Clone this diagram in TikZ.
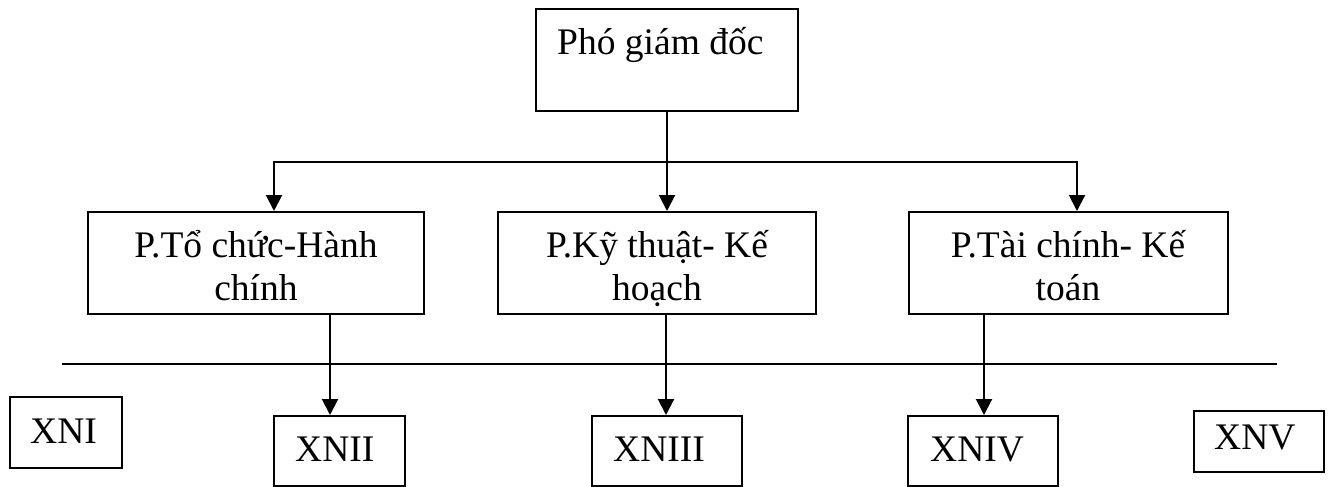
\documentclass[tikz,border=0pt]{standalone}
\usepackage{fontspec}
\setmainfont{Liberation Serif}
\usetikzlibrary{arrows.meta}
\begin{document}
\begin{tikzpicture}[x=1pt,y=-1pt,
  box/.style={draw,line width=2pt,inner sep=0pt,minimum width=#1},
  lbl/.style={inner sep=0pt,font=\fontsize{37.5}{44}\selectfont},
  conn/.style={line width=2pt},
  arr/.style={conn,-{Triangle[width=16pt,length=16pt]}}]
\useasboundingbox (0,0) rectangle (1328,487);
% top box
\node[box=262pt,minimum height=102pt] (top) at (667,60) {};
\node[lbl,anchor=base west] (ttop) at (557,55) {Phó giám đốc};
% level-2 boxes
\node[box=336pt,minimum height=102pt] (b1) at (256,263) {};
\node[box=318pt,minimum height=102pt] (b2) at (657,263) {};
\node[box=319pt,minimum height=102pt] (b3) at (1068.5,263) {};
\node[lbl,anchor=base] (t1a) at (256,257) {P.Tổ chức-Hành};
\node[lbl,anchor=base] (t1b) at (256,300) {chính};
\node[lbl,anchor=base] (t2a) at (657,257) {P.Kỹ thuật- Kế};
\node[lbl,anchor=base] (t2b) at (657,300) {hoạch};
\node[lbl,anchor=base] (t3a) at (1068,257) {P.Tài chính- Kế};
\node[lbl,anchor=base] (t3b) at (1068,300) {toán};
% bottom boxes
\node[box=112pt,minimum height=71pt] (x1) at (66,432.5) {};
\node[box=131pt,minimum height=70pt] (x2) at (339.5,451) {};
\node[box=150pt,minimum height=70pt] (x3) at (667,451) {};
\node[box=150pt,minimum height=70pt] (x4) at (983,451) {};
\node[box=130pt,minimum height=61pt] (x5) at (1259,441.5) {};
\node[lbl,anchor=base west] (tx1) at (30,443) {XNI};
\node[lbl,anchor=base west] (tx2) at (295,461) {XNII};
\node[lbl,anchor=base west] (tx3) at (613,461) {XNIII};
\node[lbl,anchor=base west] (tx4) at (930,461) {XNIV};
\node[lbl,anchor=base west] (tx5) at (1214,449) {XNV};
% connectors top
\coordinate (jn) at (667,162);
\draw[conn] (top.south) -- (jn);
\draw[arr] (jn) -| (b1.north -| 274,0);
\draw[arr] (jn) -| (b3.north -| 1077,0);
\draw[arr] (jn) -- (b2.north -| jn);
% long horizontal line
\coordinate (hl) at (62,364);
\coordinate (hr) at (1277,364);
\draw[conn] (hl) -- (hr);
% connectors to bottom
\draw[arr] (b1.south -| 330,0) -- (x2.north -| 330,0);
\draw[arr] (b2.south -| 666,0) -- (x3.north -| 666,0);
\draw[arr] (b3.south -| 984,0) -- (x4.north -| 984,0);
\end{tikzpicture}
\end{document}
